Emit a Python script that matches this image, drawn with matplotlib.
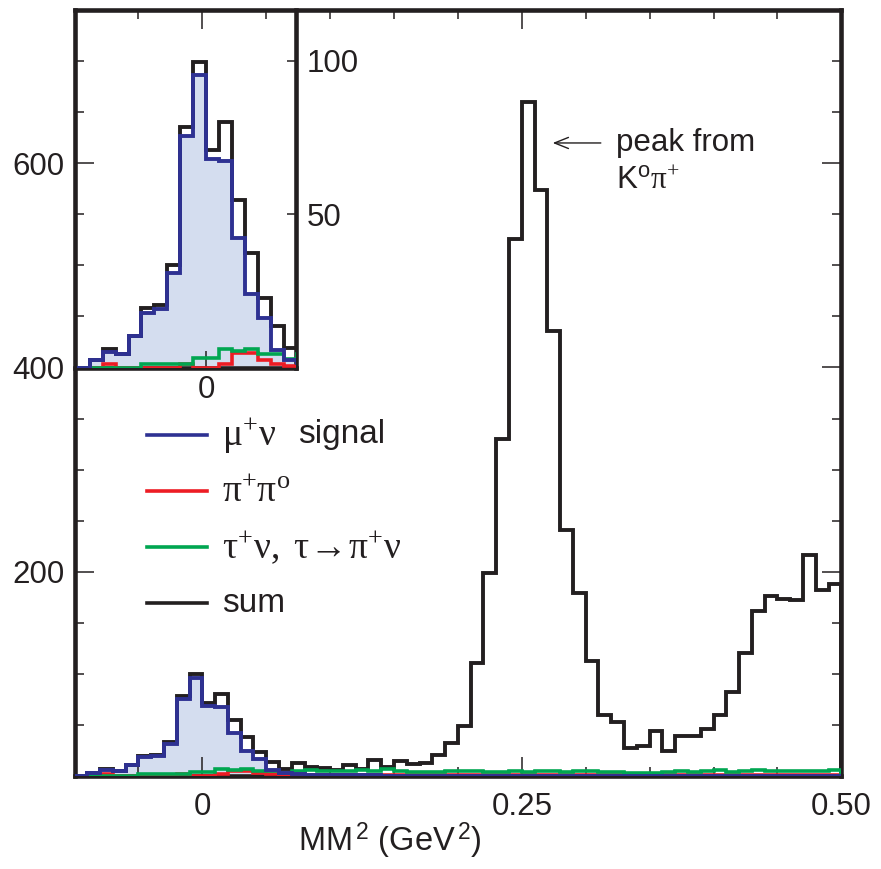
import numpy as np
import matplotlib
matplotlib.use("Agg")
import matplotlib.pyplot as plt

plt.rcParams.update({
    "font.family": "Liberation Sans",
    "mathtext.fontset": "custom",
    "mathtext.rm": "Liberation Serif",
    "mathtext.it": "Liberation Serif:italic",
    "mathtext.bf": "Liberation Serif:bold",
    "mathtext.sf": "Liberation Sans",
})

BLACK = "#231f20"
BLUE = "#2e3192"
FILL = "#d4ddef"
RED = "#ed1c24"
GREEN = "#00a651"

# bin edges of MM^2 (GeV^2), 0.01 wide
edges = np.linspace(-0.10, 0.50, 61)

sum_counts = [0, 2.5, 6.3, 4.7, 10.5, 19.5, 20.5, 33.5, 78.5, 99.5,
              71, 80, 54.7, 37.5, 22.8, 13.6, 6.5, 12, 9, 7.5,
              6, 10, 6.5, 15, 9, 14, 11.5, 12.5, 20.5, 32,
              48.5, 110.5, 199, 330, 526, 660, 574, 436, 241, 179,
              112, 59, 52.5, 27, 29.5, 44, 24.5, 38.5, 38.5, 46,
              59, 82, 120, 161, 176, 173.5, 172, 216, 182, 188]

mu_nu = [0, 2.5, 5.2, 4.7, 10.3, 18, 19.3, 31, 75.5, 95.5,
         68, 67.3, 42.2, 24, 16.2, 5.8, 2.5, 1.5, 1, 0.8,
         0.5, 0.5, 0.3, 0.3, 0, 0, 0, 0, 0, 0,
         0, 0, 0, 0, 0, 0, 0, 0, 0, 0,
         0, 0, 0, 0, 0, 0, 0, 0, 0, 0,
         0, 0, 0, 0, 0, 0, 0, 0, 0, 0]

pi_pi0 = [0, 0, 1.4, 0, 0, 0, 0, 0, 1.4, 0,
          0, 1.4, 4.9, 4.9, 2.5, 1.4, 0.7, 1, 1, 1,
          0.8, 0.8, 0.8, 0.6, 0.6, 0.6, 0.5, 0.5, 0.5, 0.5,
          0.5, 0.5, 0.5, 0.5, 0.5, 0.5, 0.5, 0.5, 0.5, 0.5,
          0.5, 0.5, 0.5, 0.5, 0.5, 0.5, 0.5, 0.5, 0.5, 0.5,
          0.5, 0.5, 0.5, 0.5, 0.5, 0.5, 0.5, 0.5, 0.5, 0.5]

tau_nu = [0, 0, 0, 0, 0, 1.4, 1.4, 1.4, 1.4, 3.4,
          3.4, 6.3, 5.4, 6.3, 4.7, 4.7, 3.0, 4.5, 5.5, 5,
          5, 4.5, 6, 5, 7, 4.5, 3.5, 4, 4, 4.5,
          5, 4.5, 4, 4, 4.5, 4, 5, 4.5, 4, 5,
          4.5, 3.5, 4, 3, 2.5, 3, 3.5, 4.5, 4, 5,
          5.5, 4, 5, 5.5, 4.5, 4.5, 5, 5, 5, 5.5]

W, H = 881, 869
fig = plt.figure(figsize=(W / 100, H / 100), dpi=100)


def px(x0, y0, x1, y1):
    # pixel box (left, top, right, bottom) -> figure fraction rect
    return [x0 / W, 1 - y1 / H, (x1 - x0) / W, (y1 - y0) / H]


def draw_hists(ax):
    ax.stairs(mu_nu, edges, fill=True, color=FILL, lw=0, zorder=1)
    ax.stairs(sum_counts, edges, color=BLACK, lw=2.8, zorder=2)
    ax.stairs(pi_pi0, edges, color=RED, lw=2.6, zorder=3)
    ax.stairs(tau_nu, edges, color=GREEN, lw=2.6, zorder=4)
    ax.stairs(mu_nu, edges, color=BLUE, lw=2.8, zorder=5)


# ---- main panel ----
ax = fig.add_axes(px(74.5, 10.3, 841.3, 775.7))
draw_hists(ax)
ax.set_xlim(-0.10, 0.50)
ax.set_ylim(0, 750)
ax.set_xticks([0, 0.25, 0.50], ["0", "0.25", "0.50"])
ax.set_xticks(np.arange(-0.05, 0.5, 0.05), minor=True)
ax.set_yticks([200, 400, 600])
ax.set_yticks(np.arange(50, 750, 50), minor=True)
ax.tick_params(which="both", direction="in", top=True, right=True,
               width=1.1, color=BLACK, labelcolor=BLACK)
ax.tick_params(which="major", length=13.5, labelsize=22.5)
ax.tick_params(which="minor", length=6.5)
ax.tick_params(axis="x", pad=12)
ax.tick_params(axis="y", pad=7)
for s in ax.spines.values():
    s.set_linewidth(3.3)
    s.set_color(BLACK)

fig.text(390 / W, 1 - 841 / H, r"MM$^{\,\mathsf{2}}$ (GeV$^{\,\mathsf{2}}$)",
         fontsize=23.5, ha="center", va="center", color=BLACK)

# arrow + annotation
ax.annotate("", xy=(0.272, 620), xytext=(0.314, 620),
            arrowprops=dict(arrowstyle="->,head_length=1.0,head_width=0.4",
                            color=BLACK, lw=1.0))
ax.text(0.3238, 620, "peak from", fontsize=22.5, ha="left", va="center",
        color=BLACK)
ax.text(0.3238, 583, r"K$^{\mathsf{o}}\mathrm{\pi}^{+}$", fontsize=22.5,
        ha="left", va="center", color=BLACK)

# ---- legend (drawn by hand): greek part, then plain word ----
legend_rows = [
    (BLUE, r"$\mathrm{\mu^{+}\nu}$", "signal"),
    (RED, r"$\mathrm{\pi^{+}\pi^{o}}$", ""),
    (GREEN, r"$\mathrm{\tau^{+}\nu,\ \tau\!\rightarrow\!\pi^{+}\nu}$", ""),
    (BLACK, "", "sum"),
]
for i, (c, greek, word) in enumerate(legend_rows):
    yy = 1 - (435 + i * 56) / H
    fig.add_artist(plt.Line2D([147 / W, 207 / W], [yy, yy], color=c, lw=2.6))
    if greek:
        fig.text(222 / W, yy, greek, fontsize=27, ha="left", va="center",
                 color=BLACK)
    if word:
        wx = 298 if greek else 222
        fig.text(wx / W, yy, word, fontsize=24, ha="left", va="center",
                 color=BLACK)

# ---- inset ----
axi = fig.add_axes(px(74.5, 10.3, 296, 368))
axi.patch.set_alpha(0)
draw_hists(axi)
axi.set_xlim(-0.1018, 0.0695)
axi.set_ylim(0, 116.4)
axi.spines["left"].set_visible(False)
axi.spines["top"].set_visible(False)
for s in ("right", "bottom"):
    axi.spines[s].set_linewidth(3.3)
    axi.spines[s].set_color(BLACK)
axi.set_xticks([0], ["0"])
axi.set_yticks([50, 100], ["50", "100"])
axi.yaxis.tick_right()
axi.tick_params(which="both", direction="in", width=1.1, labelsize=22.5,
                color=BLACK, labelcolor=BLACK, left=False, top=False)
axi.tick_params(axis="x", length=12.5, pad=5)
axi.tick_params(axis="y", length=6.5, pad=8)

fig.savefig("out.png", dpi=100)
